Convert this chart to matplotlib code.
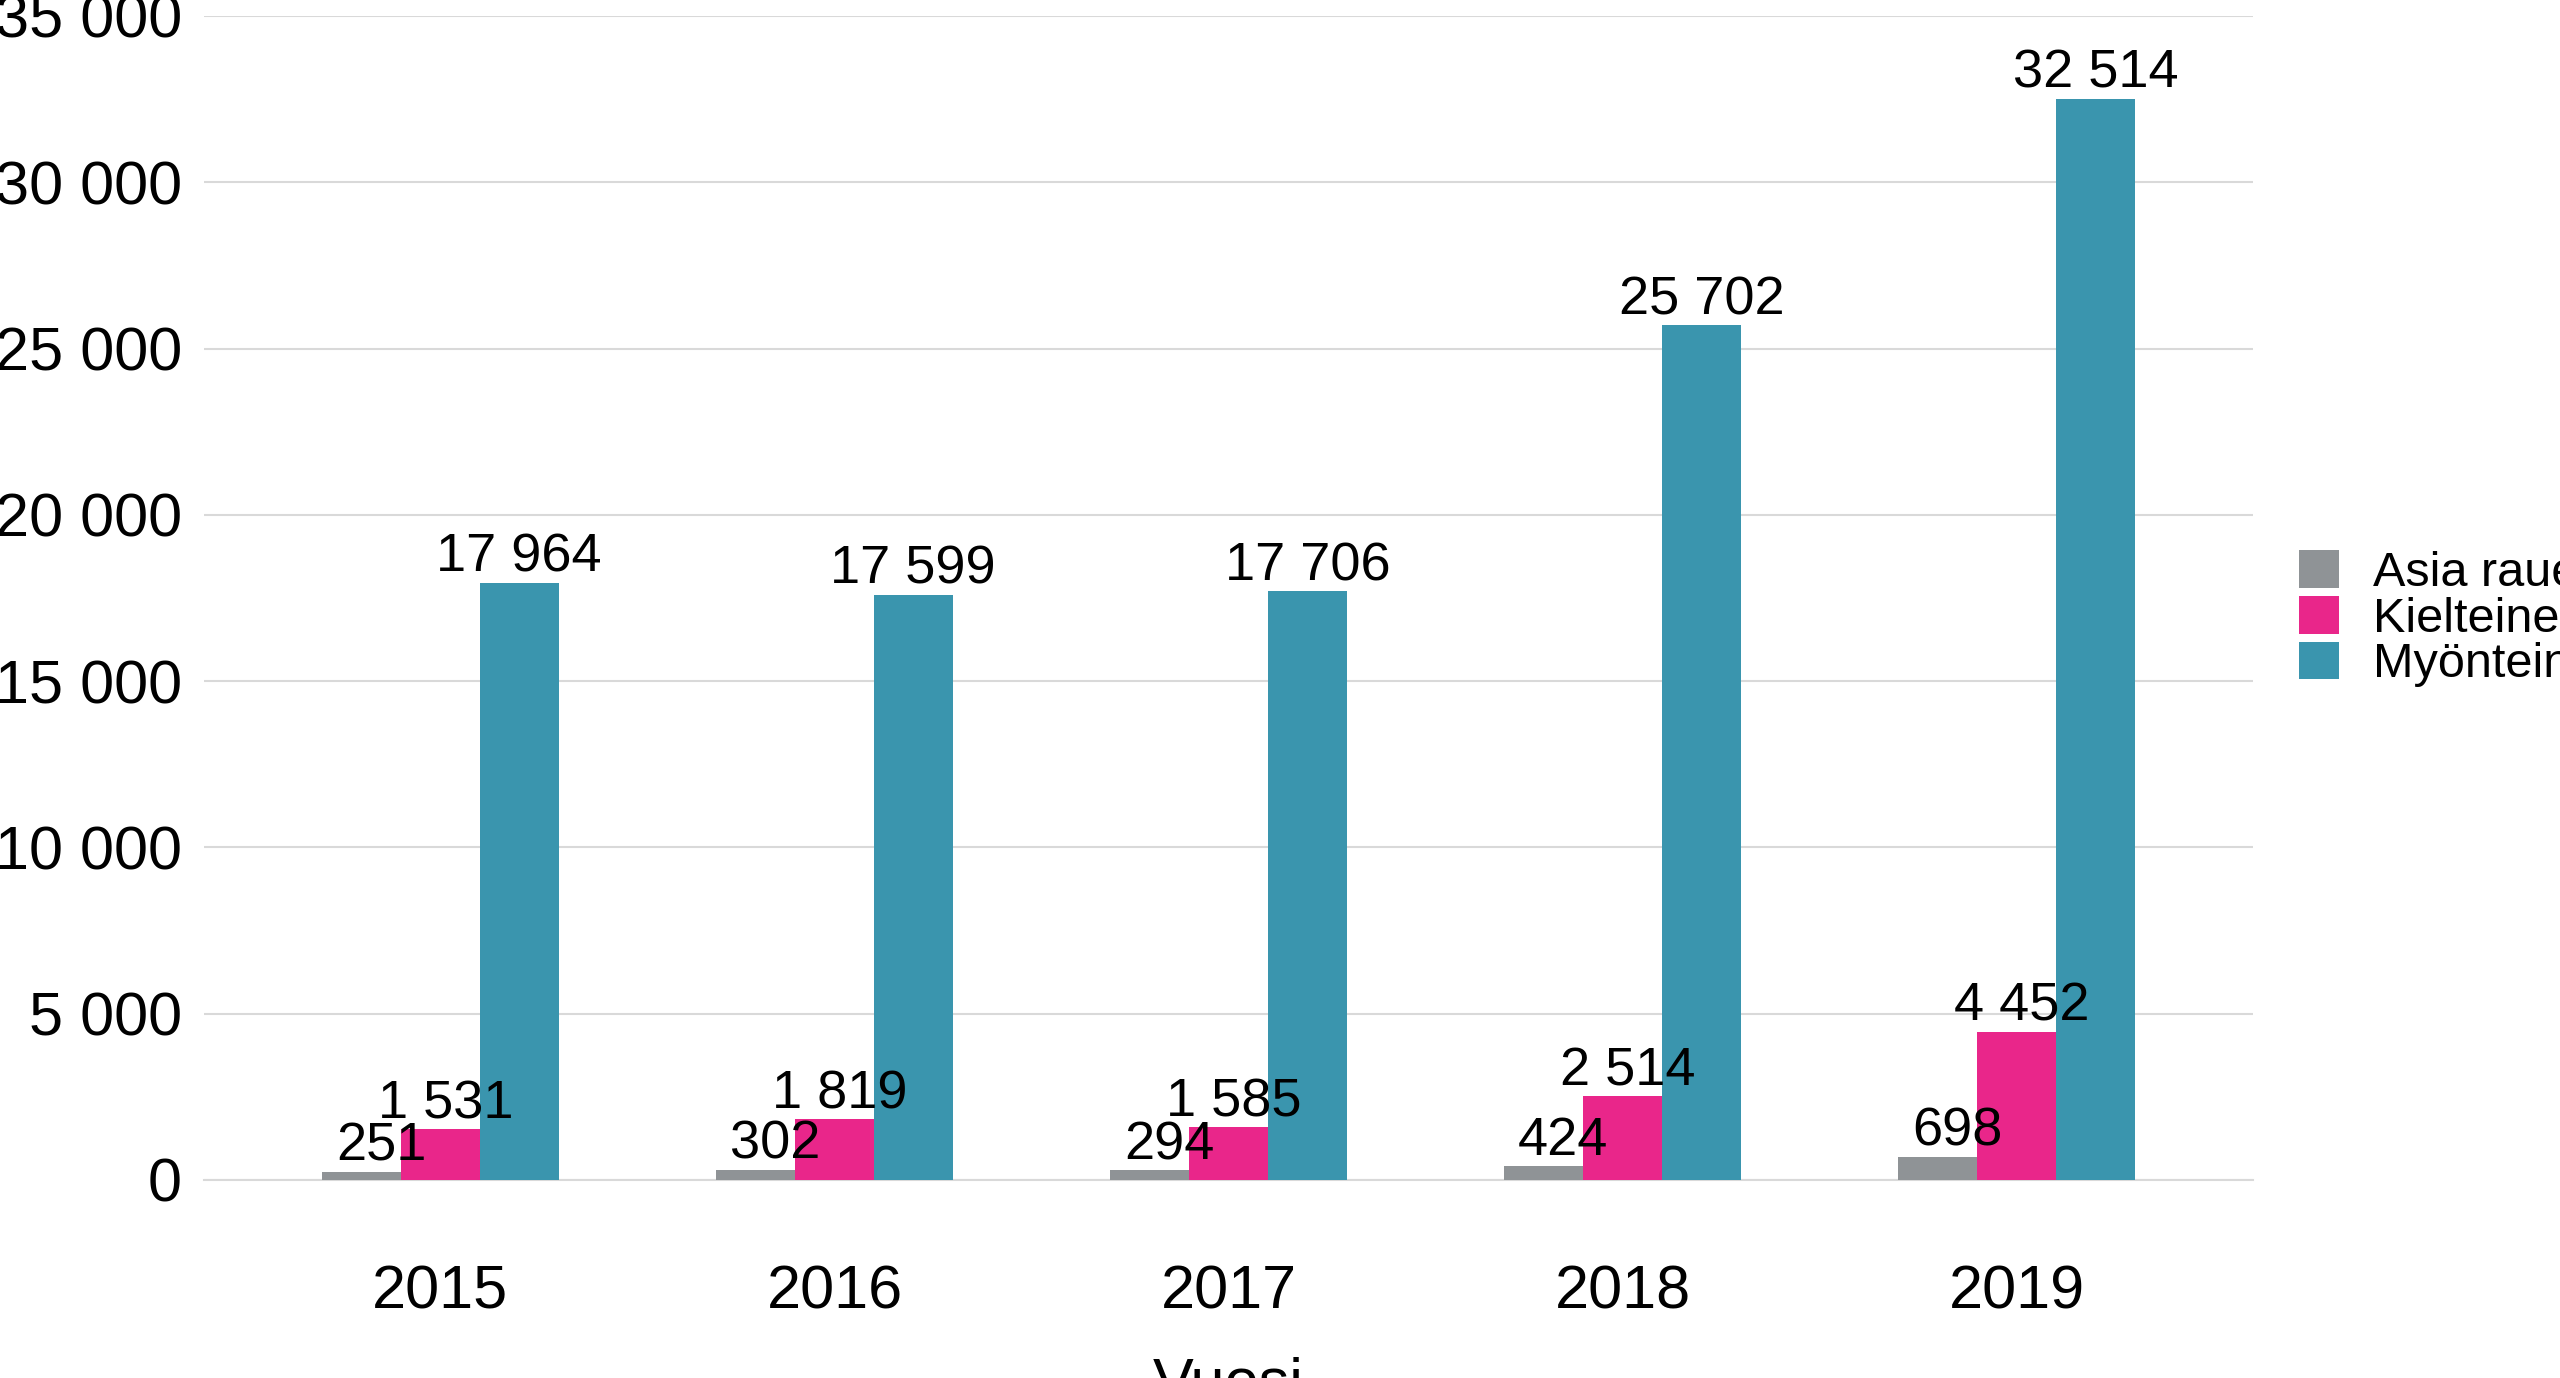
import matplotlib
matplotlib.use('Agg')
import matplotlib.pyplot as plt
import numpy as np

plt.rcParams['font.family'] = ['Liberation Sans', 'DejaVu Sans']

vuodet = ['2015', '2016', '2017', '2018', '2019']
sarjat = ['Asia rauennut', 'Kielteinen', 'Myönteinen']
rauennut = [251, 302, 294, 424, 698]
kielteinen = [1531, 1819, 1585, 2514, 4452]
myonteinen = [17964, 17599, 17706, 25702, 32514]
varit = ['#8F9396', '#E9268A', '#3A95AE']
# labels of the small bars sit a little right of centre in the original
siirto = [14, 4, 0]


def fmt(v):
    return f'{int(v):,}'.replace(',', ' ')


fig = plt.figure(figsize=(25.6, 13.78), dpi=100)
ax = fig.add_axes([0.0797, 0.1437, 0.8004, 0.8447])

x = np.arange(len(vuodet))
w = 0.2
for i, (arvot, nimi, vari) in enumerate(zip([rauennut, kielteinen, myonteinen], sarjat, varit)):
    bars = ax.bar(x + (i - 1) * w, arvot, w, color=vari, label=nimi, zorder=3)
    for b, v in zip(bars, arvot):
        ax.annotate(fmt(v), (b.get_x() + b.get_width() / 2, v),
                    xytext=(siirto[i], 0), textcoords='offset points',
                    ha='center', va='bottom', fontsize=39, zorder=4)

ax.set_xlim(-0.6, 4.6)
ax.set_ylim(0, 35000)
ax.set_yticks(range(0, 35001, 5000))
ax.set_yticklabels([fmt(v) for v in range(0, 35001, 5000)])
ax.set_xticks(x)
ax.set_xticklabels(vuodet)
ax.tick_params(axis='y', length=0, pad=16, labelsize=44)
ax.tick_params(axis='x', length=0, pad=61, labelsize=44)
ax.set_xlabel('Vuosi', fontsize=44, labelpad=25)

ax.grid(axis='y', color='#D9D9D9', linewidth=1.5, zorder=0)
for s in ['top', 'right', 'left']:
    ax.spines[s].set_visible(False)
ax.spines['bottom'].set_color('#D9D9D9')
ax.spines['bottom'].set_linewidth(1.5)

fig.legend(loc='center left', bbox_to_anchor=(0.898, 0.551), frameon=False,
           fontsize=35, handlelength=0.82, handleheight=0.82, handletextpad=0.7,
           labelspacing=0.0, borderpad=0, borderaxespad=0)

fig.savefig('out.png', dpi=100)
